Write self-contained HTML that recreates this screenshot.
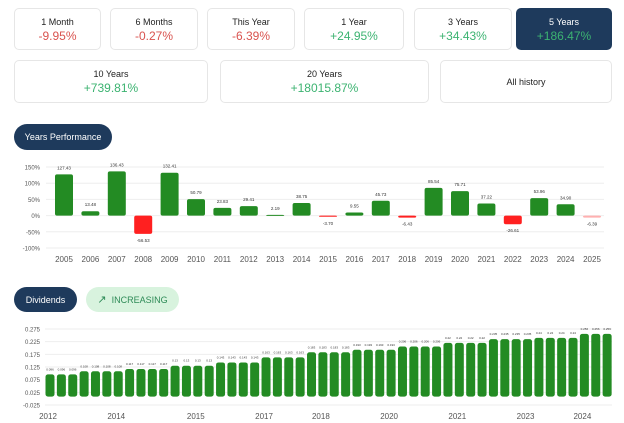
<!DOCTYPE html>
<html><head><meta charset="utf-8">
<style>
body{margin:0;width:624px;height:423px;background:#fff;font-family:"Liberation Sans",sans-serif;position:relative;overflow:hidden}
.card{position:absolute;border:1px solid #e6e6e6;border-radius:5px;background:#fff;text-align:center;box-sizing:border-box}
.card .t{font-size:9px;color:#222;margin-top:8px}
.card .v{font-size:12px;margin-top:2px}
.neg{color:#d9534f}.pos{color:#3cb371}
.sel{background:#1e3a5c;border-color:#1e3a5c}
.sel .t{color:#fff}
.pill{position:absolute;background:#1e3a5c;color:#fff;font-size:9px;border-radius:14px;display:flex;align-items:center;justify-content:center}
svg text{font-family:"Liberation Sans",sans-serif}
</style></head><body>
<div class="card" style="left:14px;top:8px;width:87px;height:42px"><div class="t">1 Month</div><div class="v neg">-9.95%</div></div>
<div class="card" style="left:110px;top:8px;width:88px;height:42px"><div class="t">6 Months</div><div class="v neg">-0.27%</div></div>
<div class="card" style="left:207px;top:8px;width:88px;height:42px"><div class="t">This Year</div><div class="v neg">-6.39%</div></div>
<div class="card" style="left:304px;top:8px;width:100px;height:42px"><div class="t">1 Year</div><div class="v pos">+24.95%</div></div>
<div class="card" style="left:414px;top:8px;width:98px;height:42px"><div class="t">3 Years</div><div class="v pos">+34.43%</div></div>
<div class="card sel" style="left:516px;top:8px;width:96px;height:42px"><div class="t">5 Years</div><div class="v pos">+186.47%</div></div>
<div class="card" style="left:14px;top:60px;width:194px;height:43px"><div class="t">10 Years</div><div class="v pos">+739.81%</div></div>
<div class="card" style="left:220px;top:60px;width:209px;height:43px"><div class="t">20 Years</div><div class="v pos">+18015.87%</div></div>
<div class="card" style="left:440px;top:60px;width:172px;height:43px"><div class="t" style="margin-top:16px">All history</div></div>
<div class="pill" style="left:14px;top:124px;width:98px;height:26px">Years Performance</div>
<div class="pill" style="left:14px;top:287px;width:63px;height:25px">Dividends</div>
<div class="pill" style="left:86px;top:287px;width:93px;height:25px;background:#d8f3de;color:#2e8b57"><span style="font-size:11px;margin-right:5px">↗</span>INCREASING</div>

<svg id="perf" style="position:absolute;left:0;top:150px" width="624" height="120"></svg>
<svg id="div" style="position:absolute;left:0;top:315px" width="624" height="108"></svg>

<script>
const perfYears=[2005,2006,2007,2008,2009,2010,2011,2012,2013,2014,2015,2016,2017,2018,2019,2020,2021,2022,2023,2024,2025];
const perfValues=[127.43,13.48,136.43,-56.53,132.41,50.79,23.83,29.41,2.19,38.75,-3.7,9.55,45.73,-6.43,85.54,75.71,37.22,-26.61,53.96,34.9,-6.39];
const perfTicks=[150,100,50,0,-50,-100];
const divValues=[0.096,0.096,0.096,0.108,0.108,0.108,0.108,0.117,0.117,0.117,0.117,0.13,0.13,0.13,0.13,0.143,0.143,0.143,0.143,0.163,0.163,0.163,0.163,0.183,0.183,0.183,0.183,0.193,0.193,0.193,0.193,0.206,0.206,0.206,0.206,0.22,0.22,0.22,0.22,0.235,0.235,0.235,0.235,0.24,0.24,0.24,0.24,0.256,0.256,0.256];
const divTicks=[0.275,0.225,0.175,0.125,0.075,0.025,-0.025];
const divXLabels=["2012","2014","2015","2017","2018","2020","2021","2023","2024"];
const divXLabelIdx=[0,6,13,19,24,30,36,42,47];
const NS="http://www.w3.org/2000/svg";
function mk(svg,tag,a){const e=document.createElementNS(NS,tag);for(const k in a)e.setAttribute(k,a[k]);svg.appendChild(e);return e;}
(function(){
const s=document.getElementById('perf');
const y=v=>17+(150-v)/250*81;
const x=i=>64+i*26.4;
perfTicks.forEach(t=>{
 const l=mk(s,'line',{x1:46,x2:604,y1:y(t),y2:y(t),stroke:'#eee','stroke-width':1});
 
 
 const tx=mk(s,'text',{x:40,y:y(t)+2.5,'text-anchor':'end','font-size':6,fill:'#555'});tx.textContent=t+'%';
 
 
});
perfValues.forEach((v,i)=>{
 const top=Math.min(y(v),y(0)),h=Math.max(Math.abs(y(v)-y(0)),1);
 const pale=i===perfValues.length-1;
 const r=mk(s,'rect',{x:x(i)-9,y:top,width:18,height:h,rx:2,fill:v>=0?'#238b23':(pale?'#ffb0b0':'#ff2020')});
 
 
 const ly=v>=0?top-5:top+h+8;
 const t=mk(s,'text',{x:x(i),y:ly,'text-anchor':'middle','font-size':4.5,fill:'#333'});t.textContent=v.toFixed(2);
 
 
 const yl=mk(s,'text',{x:x(i),y:112,'text-anchor':'middle','font-size':8,fill:'#555'});yl.textContent=perfYears[i];
 
 
});
})();
(function(){
const s=document.getElementById('div');
const y=v=>14+(0.275-v)/0.3*76;
const x=i=>50+i*11.37;
const base=y(0.008);
divTicks.forEach(t=>{
 const l=mk(s,'line',{x1:45,x2:612,y1:y(t),y2:y(t),stroke:'#eee','stroke-width':1});
 
 
 const tx=mk(s,'text',{x:40,y:y(t)+2.5,'text-anchor':'end','font-size':6,fill:'#555'});tx.textContent=t.toFixed(3);
 
 
});
divValues.forEach((v,i)=>{
 const r=mk(s,'rect',{x:x(i)-4.5,y:y(v),width:9,height:base-y(v),rx:2.5,fill:'#238b23'});
 
 
 const t=mk(s,'text',{x:x(i),y:y(v)-4,'text-anchor':'middle','font-size':3,fill:'#333'});t.textContent=String(v);
 
 
});
divXLabels.forEach((l,k)=>{
 const t=mk(s,'text',{x:x(divXLabelIdx[k])-2,y:104,'text-anchor':'middle','font-size':8,fill:'#555'});t.textContent=l;
 
 
});
})();
</script>
</body></html>
